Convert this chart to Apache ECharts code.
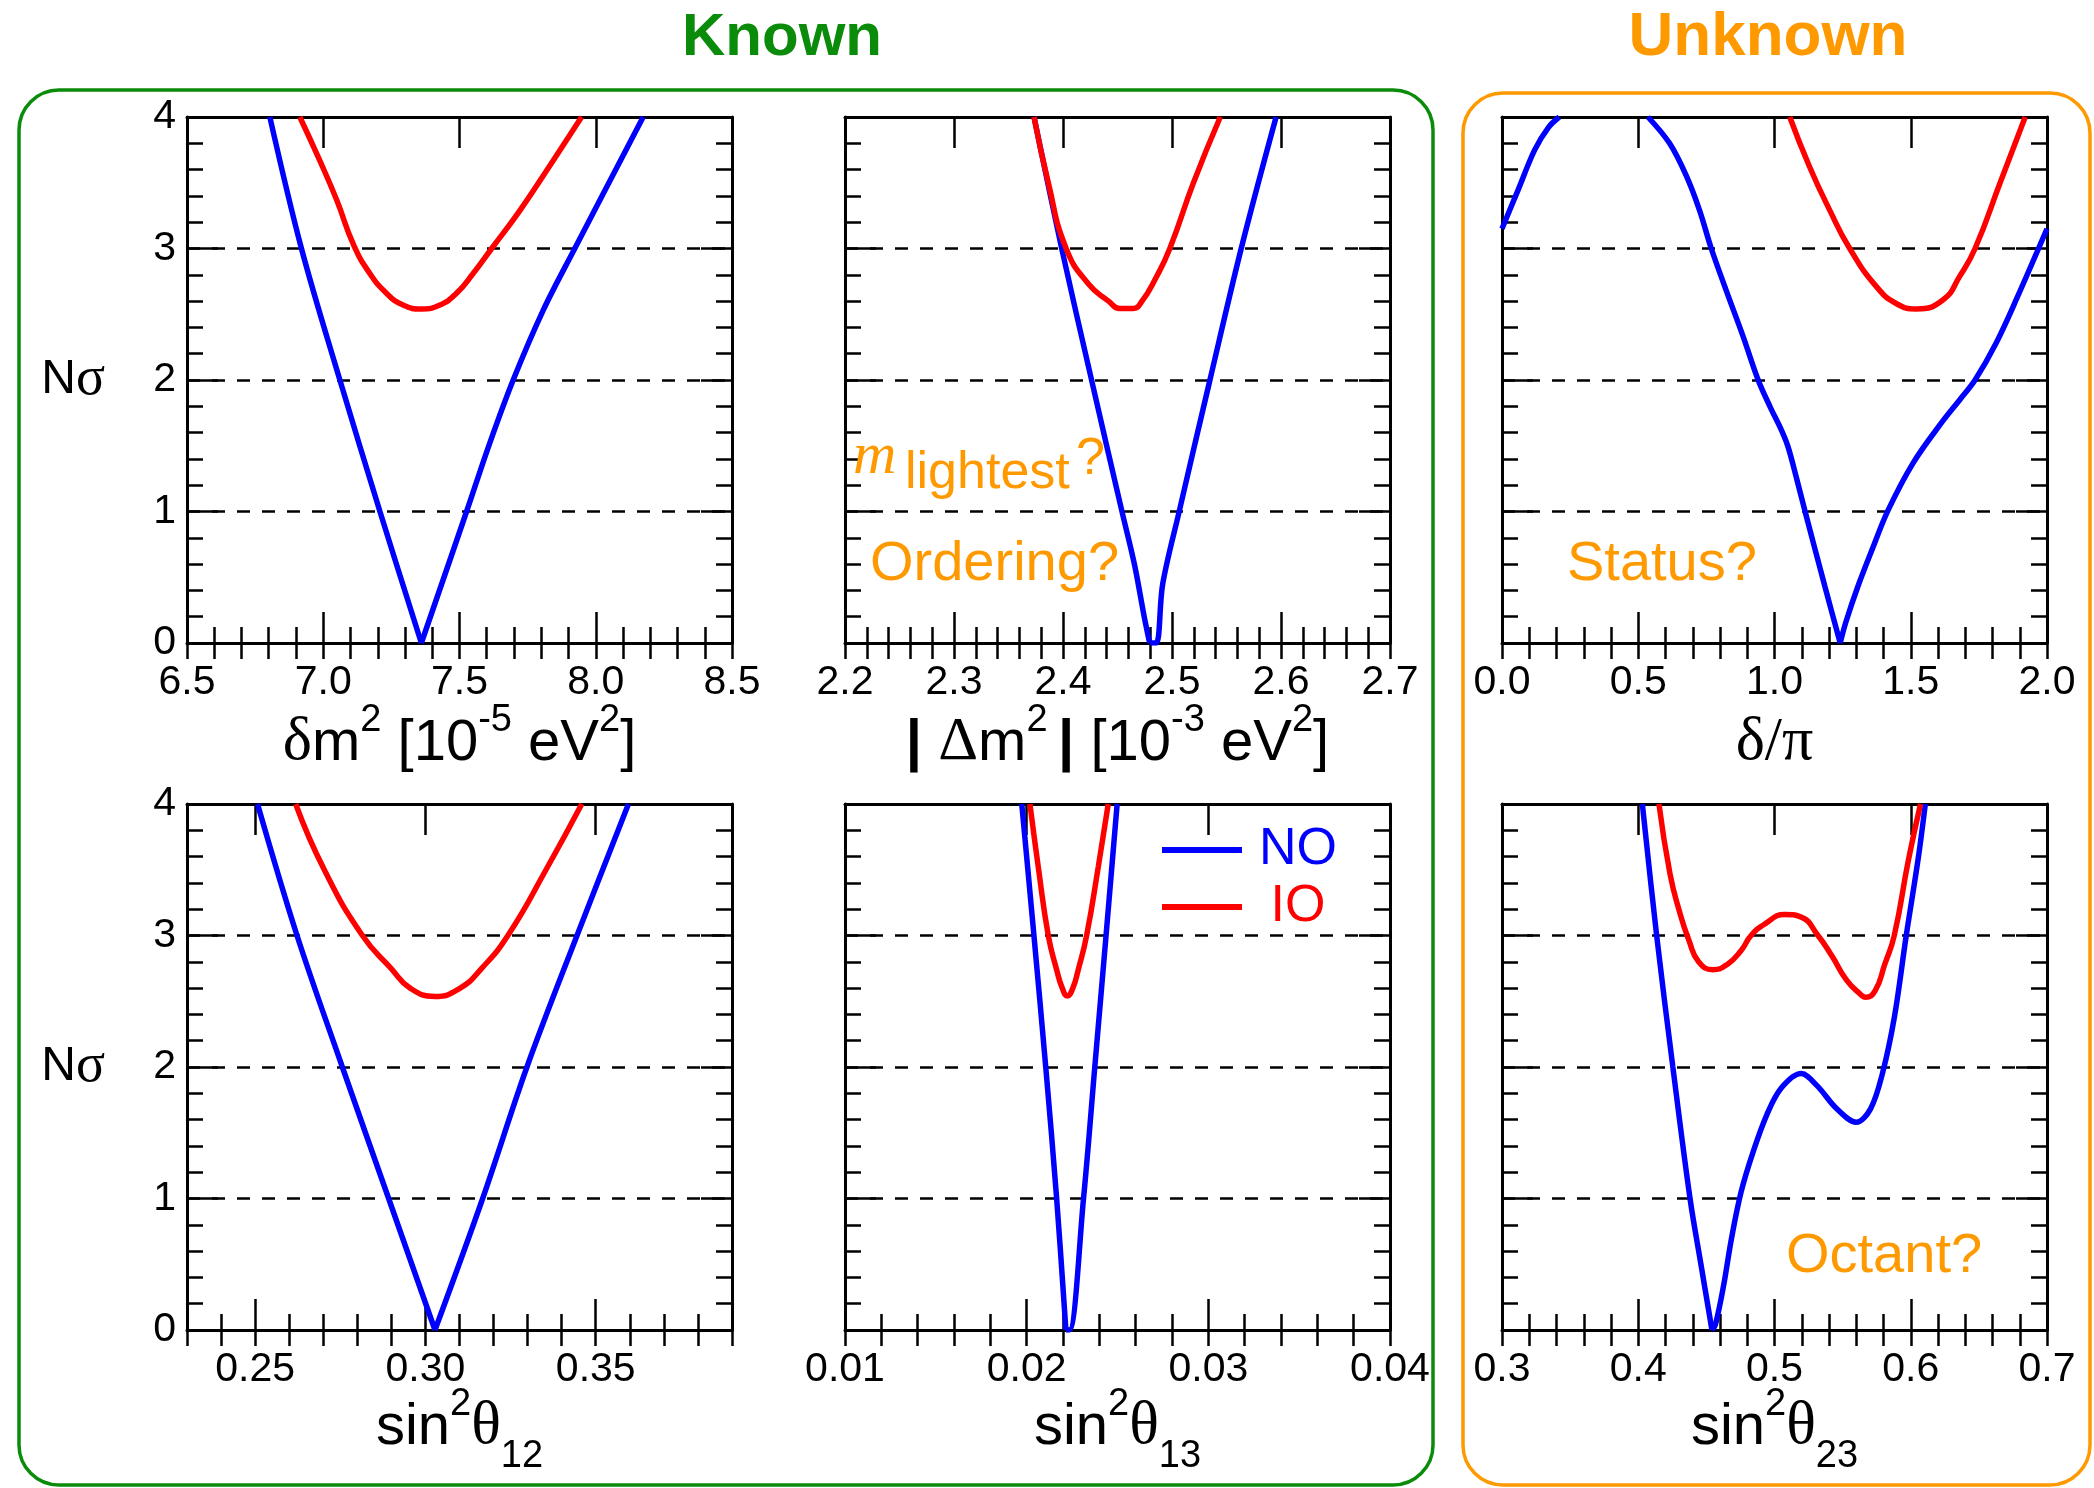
<!DOCTYPE html>
<html>
<head>
<meta charset="utf-8">
<script src="https://cdn.jsdelivr.net/npm/echarts@6/dist/echarts.min.js"></script>
<style>
  html, body { margin: 0; padding: 0; background: #fff; }
  #main { width: 2094px; height: 1488px; }
</style>
</head>
<body>
<div id="main"></div>
<script>
// ---- data: [x, Nsigma] ----
var dm21Ticks = [6.5, 7.0, 7.5, 8.0, 8.5];
var dm21NO = [[6.804, 4], [6.92, 3], [7.061, 2], [7.208, 1], [7.36, 0], [7.526, 1], [7.611, 1.52], [7.697, 2], [7.807, 2.53], [7.923, 3], [8.174, 4]];
var dm21IO = [[6.914, 4], [6.987, 3.67], [7.049, 3.37], [7.113, 3.02], [7.171, 2.81], [7.232, 2.66], [7.293, 2.57], [7.361, 2.54], [7.428, 2.57], [7.489, 2.66], [7.55, 2.81], [7.618, 3], [7.722, 3.29], [7.844, 3.67], [7.948, 4]];

var dm31Ticks = [2.2, 2.3, 2.4, 2.5, 2.6, 2.7];
var dm31NO = [[2.3734, 4], [2.3988, 3], [2.4262, 2], [2.4541, 1], [2.4655, 0.6], [2.4745, 0.2], [2.4795, 0], [2.4855, 0], [2.4915, 0.45], [2.5066, 1], [2.5348, 2], [2.5635, 3], [2.5955, 4]];
var dm31IO = [[2.3734, 4], [2.3865, 3.5], [2.4029, 3], [2.4234, 2.73], [2.4418, 2.6], [2.452, 2.544], [2.4643, 2.544], [2.4725, 2.6], [2.4848, 2.77], [2.498, 3], [2.5197, 3.5], [2.5443, 4]];

var deltaTicks = [0.0, 0.5, 1.0, 1.5, 2.0];
var deltaNOa = [[0, 3.15], [0.06, 3.45], [0.12, 3.75], [0.17, 3.92], [0.21, 4]];
var deltaNOb = [[0.5357, 4], [0.615, 3.8], [0.677, 3.55], [0.725, 3.29], [0.768, 3.0], [0.823, 2.68], [0.885, 2.33], [0.94, 2.0], [0.983, 1.8], [1.025, 1.62], [1.05, 1.49], [1.08, 1.26], [1.111, 1.01], [1.185, 0.43], [1.241, 0], [1.262, 0.16], [1.306, 0.43], [1.36, 0.72], [1.417, 1.01], [1.509, 1.37], [1.613, 1.675], [1.68, 1.85], [1.736, 2.0], [1.813, 2.28], [1.889, 2.62], [2.0, 3.15]];
var deltaIO = [[1.056, 4], [1.129, 3.62], [1.203, 3.29], [1.276, 3], [1.374, 2.71], [1.448, 2.58], [1.521, 2.54], [1.619, 2.61], [1.68, 2.79], [1.736, 3], [1.828, 3.5], [1.92, 4]];

var s12Ticks = [0.25, 0.30, 0.35];
var s12NO = [[0.2507, 4], [0.2623, 3], [0.2756, 2], [0.2892, 1], [0.3028, 0], [0.3168, 1], [0.3298, 2], [0.3445, 3], [0.3596, 4]];
var s12IO = [[0.2619, 4], [0.2703, 3.5], [0.2815, 3], [0.2899, 2.75], [0.2955, 2.6], [0.3028, 2.537], [0.3102, 2.6], [0.3165, 2.75], [0.3242, 3], [0.3354, 3.5], [0.3459, 4]];

var s13Ticks = [0.01, 0.02, 0.03, 0.04];
var s13NO = [[0.01973, 4], [0.0204, 3], [0.02105, 2], [0.02165, 1], [0.02216, 0], [0.02235, 0], [0.02313, 1], [0.02375, 2], [0.02437, 3], [0.02498, 4]];
var s13IO = [[0.02018, 4], [0.02064, 3.52], [0.02119, 3], [0.02165, 2.74], [0.02196, 2.6], [0.02224, 2.54], [0.02254, 2.6], [0.02284, 2.74], [0.0233, 3], [0.02394, 3.52], [0.02449, 4]];

var s23Ticks = [0.3, 0.4, 0.5, 0.6, 0.7];
var s23NO = [[0.403, 4], [0.4135, 3], [0.4254, 2], [0.438, 1], [0.446, 0.5], [0.4541, 0], [0.4566, 0.04], [0.4625, 0.33], [0.4685, 0.7], [0.4755, 1.05], [0.4845, 1.36], [0.4945, 1.64], [0.505, 1.84], [0.5196, 1.95], [0.531, 1.86], [0.5459, 1.68], [0.5599, 1.58], [0.5704, 1.68], [0.5792, 1.95], [0.588, 2.38], [0.5967, 3.0], [0.6054, 3.58], [0.6107, 4]];
var s23IO = [[0.4152, 4], [0.4233, 3.47], [0.4303, 3.18], [0.4373, 2.96], [0.4443, 2.8], [0.4548, 2.74], [0.4653, 2.78], [0.4758, 2.89], [0.4828, 3.0], [0.4933, 3.09], [0.5074, 3.16], [0.5196, 3.14], [0.5319, 3.0], [0.5424, 2.84], [0.5529, 2.66], [0.5634, 2.55], [0.5669, 2.53], [0.5739, 2.58], [0.5809, 2.78], [0.5879, 3.0], [0.5984, 3.58], [0.6072, 4]];

// ---- look ----
var SANS = 'Liberation Sans';
var SERIF = 'Liberation Serif';
var BLUE = '#0000ff', RED = '#ff0000', GREEN = '#0a8c0a', ORANGE = '#ff9900';
var colLeft = [187, 845, 1502], rowTop = [117, 804];
var plotW = 545, plotH = 526;
var titleBase = [764, 1448];

// title pieces: text, family, size, rise above baseline
function S(t) { return { t: t, fam: SANS, size: 58, rise: 0 }; }
function B(t) { return { t: t, fam: SANS, size: 58, rise: 0, weight: 'bold' }; }
function G(t) { return { t: t, fam: SERIF, size: 62, rise: 0 }; }
function SUP(t) { return { t: t, fam: SANS, size: 38, rise: 30 }; }
function SUB(t) { return { t: t, fam: SANS, size: 38, rise: -22 }; }

var panels = [
    { row: 0, col: 0, range: [6.5, 8.5], ticks: dm21Ticks, minor: 0.1, dec: 1,
      title: [G('δ'), S('m'), SUP('2'), S(' [10'), SUP('-5'), S(' eV'), SUP('2'), S(']')],
      no: [dm21NO], io: dm21IO },
    { row: 0, col: 1, range: [2.2, 2.7], ticks: dm31Ticks, minor: 0.02, dec: 1,
      title: [B('|'), S(' '), G('Δ'), S('m'), SUP('2 '), B('|'), S(' [10'), SUP('-3'), S(' eV'), SUP('2'), S(']')],
      no: [dm31NO], io: dm31IO },
    { row: 0, col: 2, range: [0, 2], ticks: deltaTicks, minor: 0.1, dec: 1,
      title: [G('δ/π')], no: [deltaNOa, deltaNOb], io: deltaIO },
    { row: 1, col: 0, range: [0.23, 0.39], ticks: s12Ticks, minor: 0.01, dec: 2,
      title: [S('sin'), SUP('2'), G('θ'), SUB('12')], no: [s12NO], io: s12IO },
    { row: 1, col: 1, range: [0.01, 0.04], ticks: s13Ticks, minor: 0.002, dec: 2,
      title: [S('sin'), SUP('2'), G('θ'), SUB('13')], no: [s13NO], io: s13IO },
    { row: 1, col: 2, range: [0.3, 0.7], ticks: s23Ticks, minor: 0.02, dec: 1,
      title: [S('sin'), SUP('2'), G('θ'), SUB('23')], no: [s23NO], io: s23IO }
];

function minorTicks(r, step) {
    var out = [];
    var n = Math.round((r[1] - r[0]) / step);
    for (var i = 0; i <= n; i++) out.push(+(r[0] + i * step).toFixed(6));
    return out;
}

// split a curve at its lowest point so the tip stays sharp when smoothed
function splitAtMin(seg) {
    var k = 0;
    for (var i = 1; i < seg.length; i++) if (seg[i][1] < seg[k][1]) k = i;
    if (k === 0 || k === seg.length - 1) return [seg];
    return [seg.slice(0, k + 1), seg.slice(k)];
}

var measure = document.createElement('canvas').getContext('2d');
function fontOf(p) { return (p.weight ? p.weight + ' ' : '') + p.size + 'px "' + p.fam + '"'; }
function titleGraphics(pieces, cx, baseY) {
    var total = 0;
    pieces.forEach(function(p) { measure.font = fontOf(p); p.w = measure.measureText(p.t).width; total += p.w; });
    var x = cx - total / 2, out = [];
    pieces.forEach(function(p) {
        var mid = p.fam === SERIF ? 0.3375 : 0.3465;
        out.push({ type: 'text', x: x, y: baseY - p.rise - mid * p.size, z: 10,
                   style: { text: p.t, font: fontOf(p), fill: '#000', align: 'left', verticalAlign: 'middle' } });
        x += p.w;
    });
    return out;
}

var axisLine = { color: '#000', width: 3 };
var tickLine = { color: '#000', width: 2.5 };
var grids = [], xAxes = [], yAxes = [], series = [], titles = [];

panels.forEach(function(p, g) {
    grids.push({ left: colLeft[p.col], top: rowTop[p.row], width: plotW, height: plotH, outerBoundsMode: 'none' });
    titles = titles.concat(titleGraphics(p.title, colLeft[p.col] + plotW / 2, titleBase[p.row]));
    var minors = minorTicks(p.range, p.minor);
    ['bottom', 'top'].forEach(function(pos) {
        xAxes.push({
            type: 'value', gridIndex: g, position: pos, min: p.range[0], max: p.range[1],
            axisLine: { show: true, onZero: false, lineStyle: axisLine },
            axisTick: { show: true, inside: true, length: 31, customValues: p.ticks, lineStyle: tickLine },
            axisLabel: {
                show: pos === 'bottom', customValues: p.ticks, margin: 19,
                fontFamily: SANS, fontSize: 41, color: '#000',
                formatter: (function(d) { return function(v) { return (+v).toFixed(d); }; })(p.dec)
            },
            splitLine: { show: false }
        });
        xAxes.push({
            type: 'value', gridIndex: g, position: pos, min: p.range[0], max: p.range[1],
            axisLine: { show: false },
            axisTick: { show: true, inside: true, length: 16, customValues: minors, lineStyle: tickLine },
            axisLabel: { show: false },
            splitLine: { show: false }
        });
    });
    ['left', 'right'].forEach(function(pos) {
        var first = pos === 'left';
        yAxes.push({
            type: 'value', gridIndex: g, position: pos, min: 0, max: 4, interval: 1,
            axisLine: { show: true, onZero: false, lineStyle: axisLine },
            axisTick: { show: true, inside: true, length: 31, lineStyle: tickLine },
            minorTick: { show: true, splitNumber: 5, length: 16, lineStyle: tickLine },
            axisLabel: {
                show: first && p.col === 0, margin: 11,
                fontFamily: SANS, fontSize: 41, color: '#000'
            },
            splitLine: { show: first, lineStyle: { color: '#000', width: 2.5, type: [13, 12] } },
            name: first && p.col === 0 ? '{nb|N}{ng|σ}' : '',
            nameLocation: 'middle', nameRotate: 0, nameGap: 82,
            nameTextStyle: { rich: {
                nb: { fontFamily: SANS, fontSize: 48, color: '#000' },
                ng: { fontFamily: SERIF, fontSize: 54, color: '#000' }
            } }
        });
    });
    var base = { type: 'line', xAxisIndex: g * 4, yAxisIndex: g * 2, showSymbol: false, symbol: 'none', z: 3 };
    p.no.forEach(function(seg) {
        splitAtMin(seg).forEach(function(part) {
            series.push(Object.assign({}, base, {
                name: 'NO', data: part, smooth: 0.35,
                lineStyle: { color: BLUE, width: 5.5 }, itemStyle: { color: BLUE }
            }));
        });
    });
    series.push(Object.assign({}, base, {
        name: 'IO', data: p.io, smooth: 0.5,
        lineStyle: { color: RED, width: 5.5 }, itemStyle: { color: RED }
    }));
});

var option = {
    animation: false,
    backgroundColor: '#fff',
    grid: grids,
    xAxis: xAxes,
    yAxis: yAxes,
    series: series,
    legend: {
        data: ['NO', 'IO'], selectedMode: false, orient: 'vertical',
        left: 1162, top: 824, padding: 0,
        itemWidth: 80, itemHeight: 6, itemGap: 5, icon: 'rect',
        formatter: function(n) { return n === 'NO' ? '{no|NO}' : '{io|IO}'; },
        textStyle: { rich: {
            no: { fontFamily: SANS, fontSize: 52, lineHeight: 52, color: BLUE, width: 102, align: 'center' },
            io: { fontFamily: SANS, fontSize: 52, lineHeight: 52, color: RED, width: 102, align: 'center' }
        } }
    },
    graphic: [
        { type: 'rect', shape: { x: 19, y: 90, width: 1414, height: 1395, r: 40 },
          style: { fill: 'none', stroke: GREEN, lineWidth: 3.5 } },
        { type: 'rect', shape: { x: 1463, y: 93, width: 627, height: 1392, r: 40 },
          style: { fill: 'none', stroke: ORANGE, lineWidth: 3.5 } },
        { type: 'text', x: 782, y: 38, style: { text: 'Known', fill: GREEN, font: 'bold 60px "Liberation Sans"', align: 'center', verticalAlign: 'middle' } },
        { type: 'text', x: 1768, y: 38, style: { text: 'Unknown', fill: ORANGE, font: 'bold 62px "Liberation Sans"', align: 'center', verticalAlign: 'middle' } },
        { type: 'text', x: 853, y: 457, z: 10, style: { text: 'm', fill: ORANGE, font: 'italic 60px "Liberation Serif"', align: 'left', verticalAlign: 'middle' } },
        { type: 'text', x: 905, y: 474, z: 10, style: { text: 'lightest', fill: ORANGE, font: '52px "Liberation Sans"', align: 'left', verticalAlign: 'middle' } },
        { type: 'text', x: 1076, y: 460, z: 10, style: { text: '?', fill: ORANGE, font: '52px "Liberation Sans"', align: 'left', verticalAlign: 'middle' } },
        { type: 'text', x: 870, y: 565, z: 10, style: { text: 'Ordering?', fill: ORANGE, font: '56px "Liberation Sans"', align: 'left', verticalAlign: 'middle' } },
        { type: 'text', x: 1567, y: 565, z: 10, style: { text: 'Status?', fill: ORANGE, font: '56px "Liberation Sans"', align: 'left', verticalAlign: 'middle' } },
        { type: 'text', x: 1786, y: 1257, z: 10, style: { text: 'Octant?', fill: ORANGE, font: '56px "Liberation Sans"', align: 'left', verticalAlign: 'middle' } }
    ].concat(titles)
};

var chart = echarts.init(document.getElementById('main'), null, { renderer: 'canvas', width: 2094, height: 1488 });
chart.setOption(option);
</script>
</body>
</html>
